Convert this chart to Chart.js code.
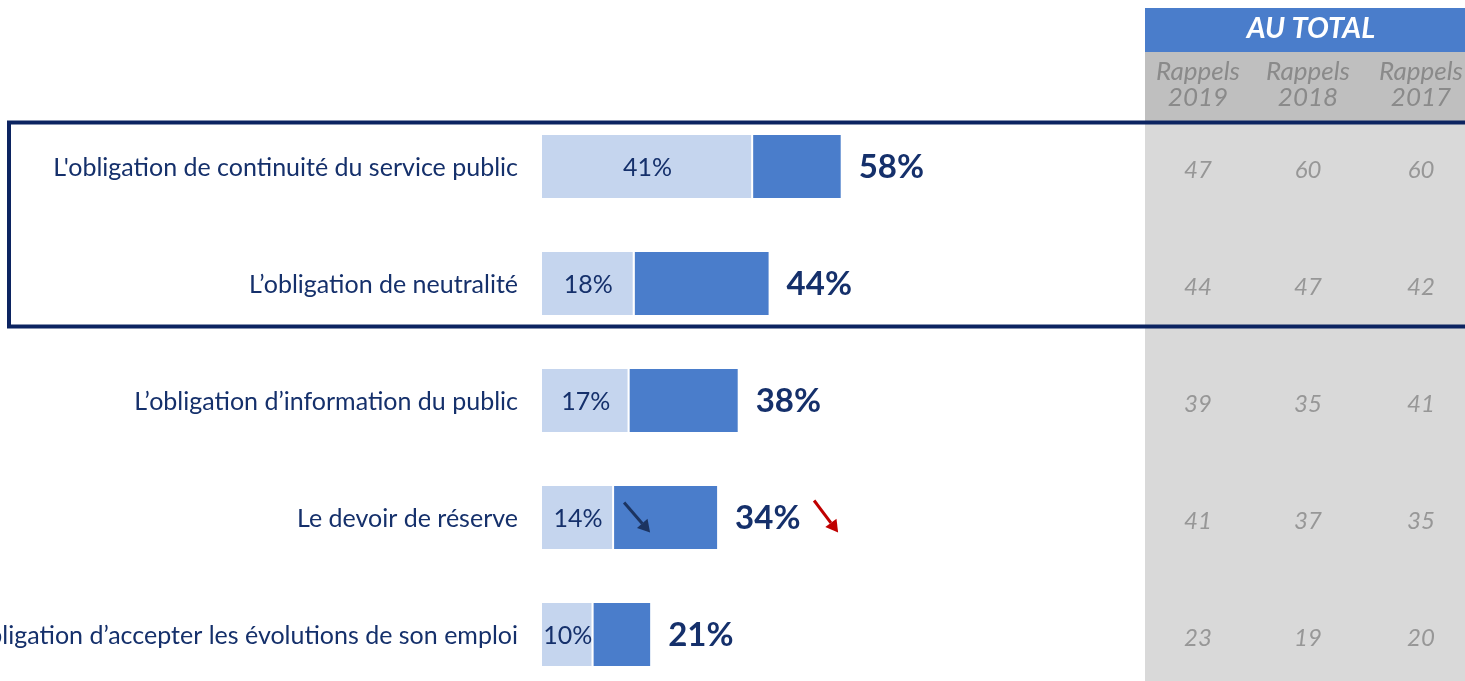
<!DOCTYPE html>
<html>
<head>
<meta charset="utf-8">
<script src="https://cdn.jsdelivr.net/npm/chart.js@4"></script>
<style>
  html, body { margin: 0; padding: 0; background: #fff; overflow: hidden; }
  #wrap { width: 1465px; height: 693px; }
</style>
</head>
<body>
<div id="wrap"><canvas id="chart"></canvas></div>
<script>
const categories = [
  "L'obligation de continuité du service public",
  "L’obligation de neutralité",
  "L’obligation d’information du public",
  "Le devoir de réserve",
  "L’obligation d’accepter les évolutions de son emploi"
];
const firstValues = [41, 18, 17, 14, 10];
const restValues = [17, 26, 21, 20, 11];
const totals = [58, 44, 38, 34, 21];
const rappelsHeaders = [['Rappels', '2019'], ['Rappels', '2018'], ['Rappels', '2017']];
const rappels2019 = [47, 44, 39, 41, 23];
const rappels2018 = [60, 47, 35, 37, 19];
const rappels2017 = [60, 42, 41, 35, 20];
const downRows = [3];

const NAVY = '#15306b';
const FONT = 'Lato, "Open Sans", sans-serif';

const decorations = {
  id: 'decorations',
  beforeDraw(chart) {
    const ctx = chart.ctx;
    const y = chart.scales.y;
    ctx.save();
    // gray panel
    ctx.fillStyle = '#d9d9d9';
    ctx.fillRect(1145, 52, 320, chart.height - 52);
    ctx.fillStyle = '#bfbfbf';
    ctx.fillRect(1145, 52, 320, 70);
    ctx.fillStyle = '#4a7dcb';
    ctx.fillRect(1145, 8, 320, 44);
    ctx.fillStyle = '#fff';
    ctx.font = 'italic bold 29px ' + FONT;
    ctx.textAlign = 'center';
    ctx.textBaseline = 'middle';
    ctx.fillText('AU TOTAL', 1311, 29);
    const colX = [1198, 1308, 1421];
    ctx.fillStyle = '#8a8a8a';
    ctx.font = 'italic 26px ' + FONT;
    rappelsHeaders.forEach((h, i) => {
      ctx.fillText(h[0], colX[i], 72);
      ctx.fillText(h[1], colX[i], 98);
    });
    ctx.fillStyle = '#979797';
    ctx.font = 'italic 24px ' + FONT;
    [rappels2019, rappels2018, rappels2017].forEach((col, i) => {
      col.forEach((v, j) => {
        ctx.fillText(String(v), colX[i], y.getPixelForValue(j) + 4);
      });
    });
    ctx.restore();
  },
  afterDraw(chart) {
    const ctx = chart.ctx;
    const x = chart.scales.x;
    const y = chart.scales.y;
    ctx.save();
    ctx.textBaseline = 'middle';
    // category labels
    ctx.fillStyle = NAVY;
    ctx.font = '25px ' + FONT;
    ctx.textAlign = 'right';
    categories.forEach((c, i) => {
      ctx.fillText(c, 518, y.getPixelForValue(i) + 1);
    });
    // inner labels
    ctx.textAlign = 'center';
    ctx.font = '25px ' + FONT;
    firstValues.forEach((v, i) => {
      const cx = (x.getPixelForValue(0) + x.getPixelForValue(v)) / 2;
      ctx.fillText(v + '%', cx, y.getPixelForValue(i) + 1);
    });
    // totals
    ctx.textAlign = 'left';
    ctx.font = 'bold 33px ' + FONT;
    totals.forEach((v, i) => {
      ctx.fillText(v + '%', x.getPixelForValue(v) + 18, y.getPixelForValue(i) + 1);
    });
    // arrows
    const arrow = (x0, y0, x1, y1, color) => {
      ctx.strokeStyle = color;
      ctx.fillStyle = color;
      ctx.lineWidth = 3;
      const a = Math.atan2(y1 - y0, x1 - x0);
      const hx = x1 - 12 * Math.cos(a), hy = y1 - 12 * Math.sin(a);
      ctx.beginPath();
      ctx.moveTo(x0, y0);
      ctx.lineTo(hx, hy);
      ctx.stroke();
      ctx.beginPath();
      ctx.moveTo(x1, y1);
      ctx.lineTo(hx + 7 * Math.sin(a), hy - 7 * Math.cos(a));
      ctx.lineTo(hx - 7 * Math.sin(a), hy + 7 * Math.cos(a));
      ctx.closePath();
      ctx.fill();
    };
    downRows.forEach(i => {
      const cy = y.getPixelForValue(i);
      const sx = x.getPixelForValue(firstValues[i]);
      arrow(sx + 10, cy - 15, sx + 36, cy + 15, '#1c3461');
      const tx = x.getPixelForValue(totals[i]);
      arrow(tx + 97, cy - 17, tx + 121, cy + 15, '#c00000');
    });
    // highlight box
    ctx.strokeStyle = '#0c2461';
    ctx.lineWidth = 4;
    const top = y.getPixelForValue(0) - 44;
    const bottom = y.getPixelForValue(1) + 43;
    ctx.strokeRect(9, top, 1480, bottom - top);
    ctx.restore();
  }
};

new Chart(document.getElementById('chart'), {
  type: 'bar',
  data: {
    labels: categories,
    datasets: [
      {
        data: firstValues,
        backgroundColor: '#c5d5ee',
        borderColor: '#ffffff',
        borderWidth: { right: 2, left: 0, top: 0, bottom: 0 },
        borderSkipped: false
      },
      {
        data: restValues,
        backgroundColor: '#4a7dcb',
        borderWidth: 0
      }
    ]
  },
  options: {
    indexAxis: 'y',
    responsive: true,
    maintainAspectRatio: false,
    animation: false,
    layout: { padding: { left: 542, right: 408, top: 108, bottom: 0 } },
    datasets: { bar: { categoryPercentage: 1, barPercentage: 0.54 } },
    scales: {
      x: { display: false, stacked: true, min: 0, max: 100 },
      y: { display: false, stacked: true }
    },
    plugins: { legend: { display: false }, tooltip: { enabled: false } }
  },
  plugins: [decorations]
});
</script>
</body>
</html>
